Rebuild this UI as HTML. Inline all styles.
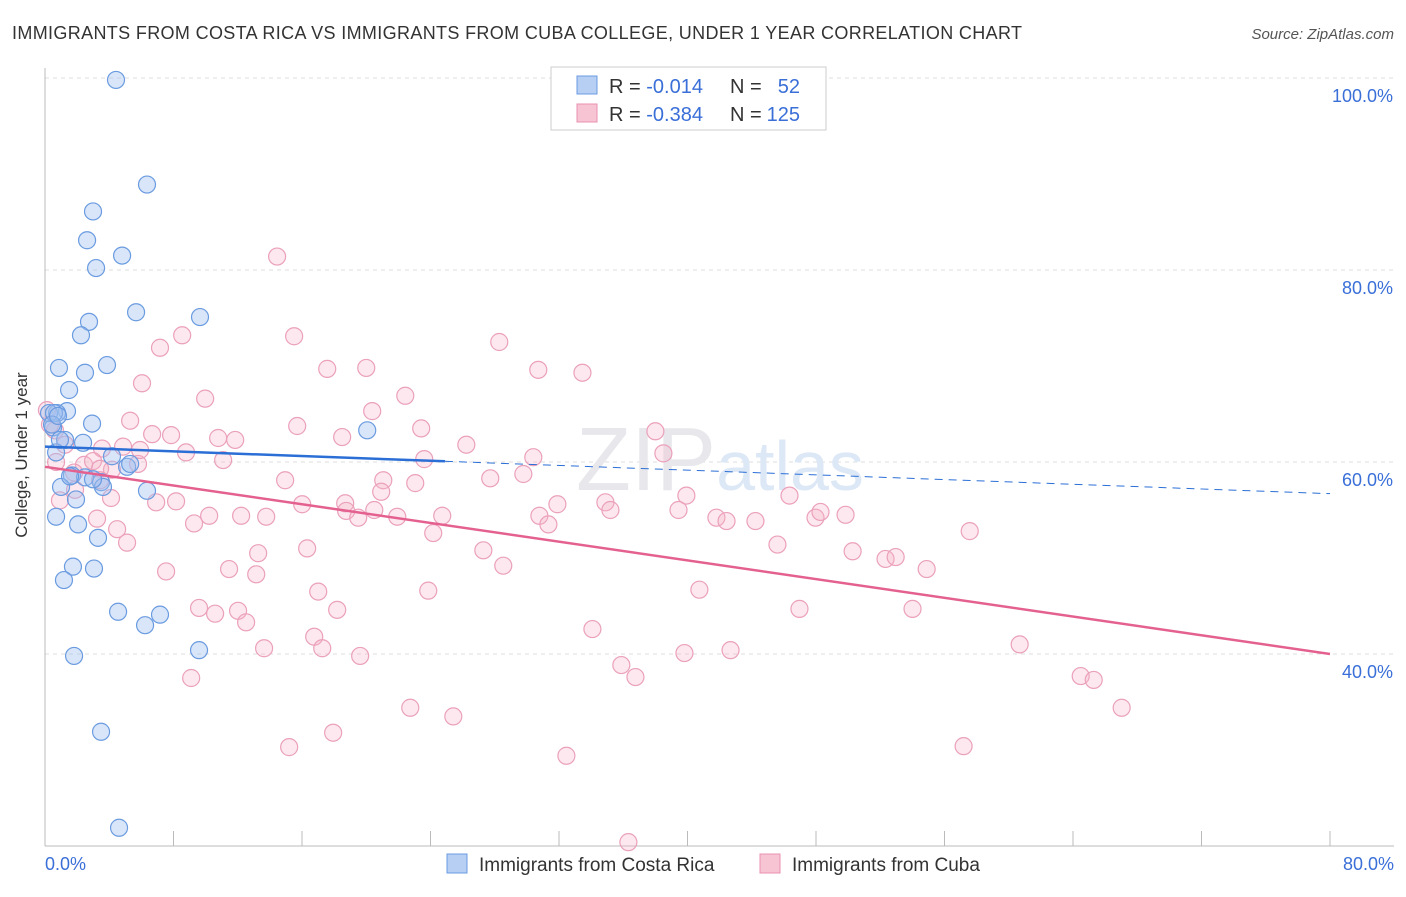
<!DOCTYPE html>
<html><head><meta charset="utf-8"><style>
body{margin:0;background:#fff;font-family:"Liberation Sans",sans-serif}
svg text{font-family:"Liberation Sans",sans-serif}
</style></head><body>
<svg id="c" width="1406" height="892">
<text x="12" y="39" font-size="18" fill="#333" textLength="1010">IMMIGRANTS FROM COSTA RICA VS IMMIGRANTS FROM CUBA COLLEGE, UNDER 1 YEAR CORRELATION CHART</text>
<text x="1394" y="39" font-size="15" fill="#555" text-anchor="end" font-style="italic">Source: ZipAtlas.com</text>
<text x="27" y="455" font-size="17" fill="#333" text-anchor="middle" transform="rotate(-90 27 455)">College, Under 1 year</text>
<g id="grid"></g><g id="axes"></g>
<text x="720" y="490" font-size="90" text-anchor="middle" font-family="Liberation Serif"><tspan fill="#e8e8ec">ZIP</tspan><tspan fill="#dde8f6" font-family="Liberation Sans" font-size="70">atlas</tspan></text>
<g id="pts"></g><g id="lines"></g>
<g>
<rect x="551" y="67" width="275" height="63" fill="#fff" stroke="#ccc"/>
<rect x="577" y="76" width="20" height="18" fill="#b7cff3" stroke="#6a9be0"/>
<rect x="577" y="104" width="20" height="18" fill="#f7c4d3" stroke="#e890b0"/>
<text x="609" y="93" font-size="20" fill="#333">R = <tspan fill="#3a6fd8">-0.014</tspan></text>
<text x="730" y="93" font-size="20" fill="#333">N =</text>
<text x="800" y="93" font-size="20" fill="#3a6fd8" text-anchor="end">52</text>
<text x="609" y="121" font-size="20" fill="#333">R = <tspan fill="#3a6fd8">-0.384</tspan></text>
<text x="730" y="121" font-size="20" fill="#333">N =</text>
<text x="800" y="121" font-size="20" fill="#3a6fd8" text-anchor="end">125</text>
</g>
<g>
<rect x="447" y="854" width="20" height="19" fill="#b7cff3" stroke="#6a9be0"/>
<text x="479" y="871" font-size="19" fill="#333">Immigrants from Costa Rica</text>
<rect x="760" y="854" width="20" height="19" fill="#f7c4d3" stroke="#e890b0"/>
<text x="792" y="871" font-size="19" fill="#333">Immigrants from Cuba</text>
</g>
</svg>
<script>
const yTicks=[40,60,80,100];
const yTickLabels=["40.0%","60.0%","80.0%","100.0%"];
const xTickLabels=["0.0%","80.0%"];
const blueX=[4.42,6.35,2.99,2.62,4.80,3.18,5.67,9.65,2.74,2.24,3.86,0.87,2.49,1.50,1.37,0.75,2.93,20.06,0.50,1.25,2.37,0.69,4.17,5.11,1.68,2.49,3.49,1.00,6.35,1.93,0.69,2.06,3.30,3.05,1.74,1.18,4.55,7.16,6.23,9.59,1.81,3.49,4.61,0.25,0.56,0.44,0.93,3.61,2.99,5.30,1.56,0.81];
const blueY=[99.8,88.9,86.1,83.1,81.5,80.2,75.6,75.1,74.6,73.2,70.1,69.8,69.3,67.5,65.3,65.1,64.0,63.3,63.6,62.3,62.0,61.0,60.6,59.5,58.6,58.4,57.9,57.4,57.0,56.1,54.3,53.5,52.1,48.9,49.1,47.7,44.4,44.1,43.0,40.4,39.8,31.9,21.9,65.1,65.1,63.9,62.3,57.4,58.2,59.8,58.5,64.8];
const pinkX=[14.45,15.51,8.54,7.16,28.28,17.57,20.00,30.71,33.46,6.04,9.97,22.43,20.37,5.30,15.70,23.42,6.67,7.85,10.78,11.84,18.50,26.23,38.00,4.86,8.78,3.55,11.09,23.61,30.40,38.50,2.43,4.17,5.79,2.99,14.95,1.81,21.06,23.05,27.72,29.78,4.11,6.92,8.16,16.01,18.69,20.93,39.93,34.89,46.35,31.90,18.75,20.50,35.20,39.44,3.24,9.28,10.22,12.21,13.77,19.50,21.93,24.73,30.78,31.34,41.80,42.43,44.23,47.97,48.28,49.84,4.49,5.11,24.17,45.60,57.57,13.27,16.32,27.29,50.28,52.33,52.96,7.54,11.46,13.15,28.53,54.89,40.74,17.01,23.86,9.59,10.59,12.02,12.52,18.19,46.97,54.01,16.76,34.08,13.64,17.26,42.68,39.81,60.68,19.62,35.88,36.76,9.10,64.48,65.29,22.74,25.42,67.03,17.94,15.20,57.19,32.46,36.32,3.43,0.69,0.93,1.87,5.92,3.43,0.12,0.62,1.25,0.31];
const pinkY=[81.4,73.1,73.2,71.9,72.5,69.7,69.8,69.6,69.3,68.2,66.6,66.9,65.3,64.3,63.75,63.5,62.9,62.8,62.5,62.3,62.6,61.8,63.2,61.6,61.0,61.4,60.2,60.3,60.5,60.9,59.7,59.2,59.8,60.1,58.1,58.9,58.1,57.8,58.3,58.75,56.25,55.8,55.9,55.6,55.7,56.9,56.5,55.8,56.5,55.6,54.9,55.0,55.0,55.0,54.1,53.6,54.4,54.4,54.3,54.2,54.3,54.4,54.4,53.5,54.2,53.85,53.85,54.2,54.8,54.5,53.0,51.6,52.6,51.4,52.8,50.5,51.0,50.8,50.7,49.9,50.1,48.6,48.85,48.3,49.2,48.85,46.7,46.5,46.6,44.8,44.2,44.5,43.3,44.6,44.7,44.7,41.8,42.6,40.6,40.6,40.4,40.1,41.0,39.8,38.85,37.6,37.5,37.7,37.3,34.4,33.5,34.4,31.8,30.3,30.4,29.4,20.4,59.3,60.0,56.0,57.1,61.25,58.1,65.4,63.3,61.8,63.9];
const blueTrend=[61.6,56.7];
const blueSolidEnd=24.9;
const pinkTrend=[59.5,40.0];
const NS="http://www.w3.org/2000/svg";
const X=v=>45+v*1285/80, Y=v=>846-(v-20)*9.6;
function mk(tag,attrs,parent){const e=document.createElementNS(NS,tag);for(const k in attrs)e.setAttribute(k,attrs[k]);document.getElementById(parent).appendChild(e);return e;}
yTicks.forEach((t,i)=>{
 const g=mk('line',{x1:45,x2:1394,y1:Y(t),y2:Y(t),stroke:'#ddd','stroke-dasharray':'4 4'},'grid');
 
 
 const l=mk('text',{x:1393,y:Y(t)+24,'font-size':18,fill:'#3a6fd8','text-anchor':'end'},'grid');
 l.textContent=yTickLabels[i];
 
 
});
const ax=mk('line',{x1:45,x2:45,y1:68,y2:846,stroke:'#bbb'},'axes');


const bx=mk('line',{x1:45,x2:1394,y1:846,y2:846,stroke:'#bbb'},'axes');


for(let i=0;i<=10;i++){const t=mk('line',{x1:X(i*8),x2:X(i*8),y1:831,y2:846,stroke:'#bbb'},'axes');
 
 }
[[0,'start',45],[80,'end',1394]].forEach((d,i)=>{const t=mk('text',{x:d[2],y:870,'font-size':18,fill:'#3a6fd8','text-anchor':d[1]},'axes');t.textContent=xTickLabels[i];
 
 });
pinkX.forEach((v,i)=>{const c=mk('circle',{cx:X(v),cy:Y(pinkY[i]),r:8.5,fill:'rgba(246,178,200,0.3)',stroke:'#eba0bb','stroke-width':1.2},'pts');
 
 });
blueX.forEach((v,i)=>{const c=mk('circle',{cx:X(v),cy:Y(blueY[i]),r:8.5,fill:'rgba(160,192,240,0.4)',stroke:'#6a9be0','stroke-width':1.2},'pts');
 
 });
const bt=v=>blueTrend[0]+(blueTrend[1]-blueTrend[0])*v/80;
const l1=mk('line',{x1:X(0),y1:Y(bt(0)),x2:X(blueSolidEnd),y2:Y(bt(blueSolidEnd)),stroke:'#2b6fd6','stroke-width':2.5},'lines');


const l2=mk('line',{x1:X(blueSolidEnd),y1:Y(bt(blueSolidEnd)),x2:X(80),y2:Y(bt(80)),stroke:'#2b6fd6','stroke-width':1,'stroke-dasharray':'8 6'},'lines');


const l3=mk('line',{x1:X(0),y1:Y(pinkTrend[0]),x2:X(80),y2:Y(pinkTrend[1]),stroke:'#e4618f','stroke-width':2.5},'lines');


</script>
</body></html>
